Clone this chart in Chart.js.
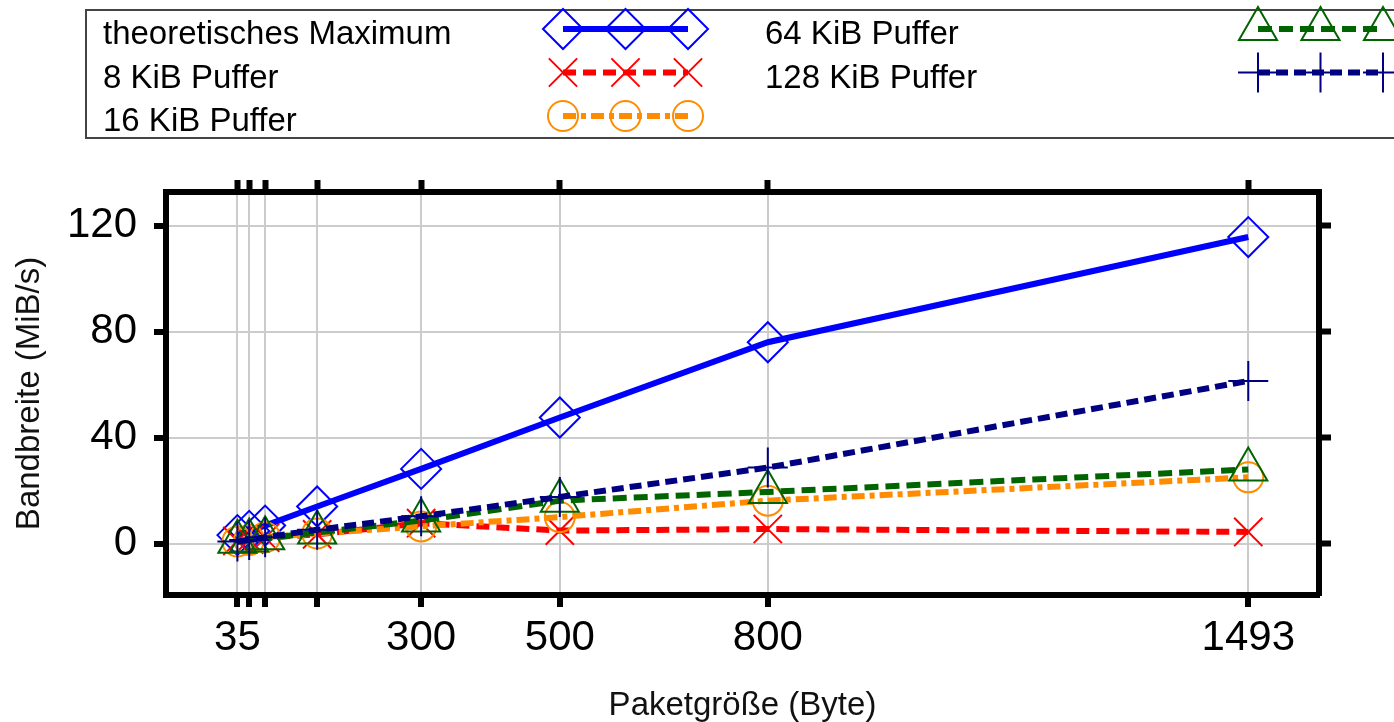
<!DOCTYPE html>
<html>
<head>
<meta charset="utf-8">
<script src="https://cdn.jsdelivr.net/npm/chart.js@4.4.1/dist/chart.umd.min.js"></script>
<style>
  html, body { margin: 0; padding: 0; background: #fff; }
  #wrap { width: 1394px; height: 722px; }
</style>
</head>
<body>
<div id="wrap"><canvas id="bandwidth" width="1394" height="722"></canvas></div>
<script>
// Paketgrößen (x) und gemessene Bandbreiten (MiB/s)
const packetSizes = [35, 52, 75, 150, 300, 500, 800, 1493];
const labeledSizes = [35, 300, 500, 800, 1493];
const yTicks = [0, 40, 80, 120];

const theoMax = [3.2, 4.8, 6.8, 14, 28.2, 47.6, 76, 115.7];
const buf8k   = [1.0, 1.5, 2.2, 3.5, 7.7, 4.9, 5.5, 4.4];
const buf16k  = [0.8, 1.4, 2.4, 3.8, 6.5, 10.0, 16.2, 25.0];
const buf64k  = [0.7, 1.2, 2.0, 4.2, 8.7, 16.2, 19.5, 28.0];
const buf128k = [0.8, 1.4, 2.4, 5.2, 10.3, 17.6, 28.7, 61.4];

const FONT = '"Liberation Sans", Arial, sans-serif';
Chart.defaults.font.family = FONT;

function series(label, values, color, dash, style, radius, order) {
  return {
    label: label,
    data: packetSizes.map((x, i) => ({ x: x, y: values[i] })),
    borderColor: color,
    backgroundColor: color,
    borderWidth: 6,
    borderDash: dash,
    pointStyle: style,
    pointRadius: radius,
    pointBorderWidth: 2,
    pointBorderColor: color,
    pointBackgroundColor: 'rgba(0,0,0,0)',
    tension: 0,
    order: order
  };
}

// Legende im Kasten oben, zwei Spalten wie im Original
const boxLegend = {
  id: 'boxLegend',
  afterDraw(chart) {
    const ctx = chart.ctx;
    ctx.save();
    ctx.strokeStyle = '#444';
    ctx.lineWidth = 2;
    ctx.strokeRect(86, 10, 1330, 128);
    chart.data.datasets.forEach((ds, i) => {
      const col = i < 3 ? 0 : 1;
      const row = i < 3 ? i : i - 3;
      const textX = col ? 765 : 103;
      const x0 = col ? 1258 : 563;
      const yy = 29 + row * 43.5;
      ctx.fillStyle = '#000';
      ctx.font = '33px ' + FONT;
      ctx.textBaseline = 'middle';
      ctx.textAlign = 'left';
      ctx.fillText(ds.label, textX, yy + 6);

      ctx.strokeStyle = ds.borderColor;
      ctx.lineWidth = ds.borderWidth;
      ctx.setLineDash(ds.borderDash || []);
      ctx.beginPath();
      ctx.moveTo(x0, yy);
      ctx.lineTo(x0 + 125, yy);
      ctx.stroke();

      ctx.setLineDash([]);
      ctx.lineWidth = ds.pointBorderWidth;
      ctx.fillStyle = 'rgba(0,0,0,0)';
      for (let k = 0; k < 3; k++) {
        Chart.helpers.drawPoint(ctx, {
          pointStyle: ds.pointStyle,
          radius: ds.pointRadius,
          rotation: 0,
          borderWidth: ds.pointBorderWidth
        }, x0 + k * 62.5, yy);
      }
    });
    ctx.restore();
  }
};

const gridOpts = { color: '#cccccc', lineWidth: 2, tickColor: '#000', tickWidth: 6, tickLength: 12 };
const mirrorGrid = { drawOnChartArea: false, tickColor: '#000', tickWidth: 6, tickLength: 12 };
const borderOpts = { color: '#000', width: 6 };

const setXTicks = s => { s.ticks = packetSizes.map(v => ({ value: v })); };
const setYTicks = s => { s.ticks = yTicks.map(v => ({ value: v })); };

new Chart(document.getElementById('bandwidth'), {
  type: 'line',
  data: {
    datasets: [
      series('theoretisches Maximum', theoMax, '#0000ff', [], 'rectRot', 20, 4),
      series('8 KiB Puffer', buf8k, '#ff0000', [13, 7], 'crossRot', 20, 3),
      series('16 KiB Puffer', buf16k, '#ff8c00', [13, 5, 5, 5], 'circle', 15, 2),
      series('64 KiB Puffer', buf64k, '#006400', [14, 7], 'triangle', 22, 1),
      series('128 KiB Puffer', buf128k, '#000080', [12, 6], 'cross', 20, 0)
    ]
  },
  options: {
    responsive: false,
    animation: false,
    layout: { padding: 0 },
    plugins: {
      legend: { display: false },
      tooltip: { enabled: false }
    },
    scales: {
      x: {
        type: 'linear',
        position: 'bottom',
        min: -68,
        max: 1595,
        afterBuildTicks: setXTicks,
        afterFit: s => { s.height = 127; },
        ticks: {
          callback: v => labeledSizes.includes(v) ? String(v) : '',
          font: { size: 42 },
          color: '#000',
          padding: 6,
          maxRotation: 0,
          autoSkip: false
        },
        grid: gridOpts,
        border: borderOpts,
        title: {
          display: true,
          text: 'Paketgröße (Byte)',
          color: '#111',
          font: { size: 33, lineHeight: 1 },
          padding: { top: 0, bottom: 0 }
        }
      },
      x2: {
        type: 'linear',
        position: 'top',
        min: -68,
        max: 1595,
        afterBuildTicks: setXTicks,
        afterFit: s => { s.height = 192; },
        ticks: { display: false },
        grid: mirrorGrid,
        border: borderOpts
      },
      y: {
        type: 'linear',
        position: 'left',
        min: -19.4,
        max: 132.7,
        afterBuildTicks: setYTicks,
        afterFit: s => { s.width = 166; },
        ticks: { font: { size: 42 }, color: '#000', padding: 17 },
        grid: gridOpts,
        border: borderOpts,
        title: {
          display: true,
          text: 'Bandbreite (MiB/s)',
          color: '#111',
          font: { size: 33, lineHeight: 1 },
          padding: { top: 13, bottom: 0 }
        }
      },
      y2: {
        type: 'linear',
        position: 'right',
        min: -19.4,
        max: 132.7,
        afterBuildTicks: setYTicks,
        afterFit: s => { s.width = 75; },
        ticks: { display: false },
        grid: mirrorGrid,
        border: borderOpts
      }
    }
  },
  plugins: [boxLegend]
});
</script>
</body>
</html>
